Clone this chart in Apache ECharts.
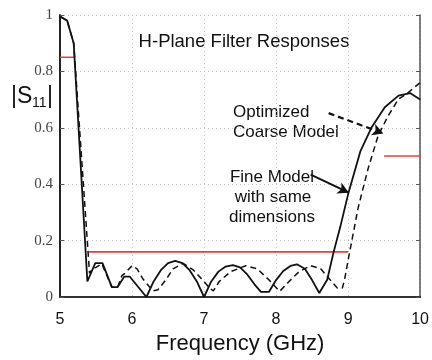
<!DOCTYPE html>
<html>
<head>
<meta charset="utf-8">
<script src="https://cdn.jsdelivr.net/npm/echarts@6/dist/echarts.min.js"></script>
<style>
  html, body { margin: 0; padding: 0; background: #fff; }
  #chart { width: 432px; height: 360px; }
</style>
</head>
<body>
<div id="chart"></div>
<script>
// fine model (solid)
const fineFreq = [5.0, 5.1, 5.19, 5.38, 5.49, 5.59, 5.72, 5.8, 5.89, 5.97, 6.2, 6.3, 6.4, 6.5, 6.6, 6.7, 6.8, 6.9, 7.0,
  7.1, 7.2, 7.3, 7.4, 7.5, 7.6, 7.7, 7.79, 7.9, 8.0, 8.1, 8.2, 8.29, 8.4, 8.5, 8.6, 8.71, 8.8, 8.89, 9.0,
  9.17, 9.33, 9.51, 9.7, 9.86, 10.0];
const fineS11 = [0.995, 0.98, 0.9, 0.055, 0.12, 0.12, 0.035, 0.035, 0.072, 0.072, 0.0, 0.055, 0.095, 0.12, 0.128, 0.12, 0.095, 0.055, 0.0,
  0.055, 0.09, 0.108, 0.113, 0.105, 0.08, 0.045, 0.018, 0.018, 0.06, 0.092, 0.11, 0.116, 0.1, 0.06, 0.014, 0.061, 0.16, 0.247, 0.364,
  0.516, 0.603, 0.673, 0.714, 0.723, 0.7];

// optimized coarse model (dashed)
const coarseFreq = [5.0, 5.1, 5.19, 5.41, 5.45, 5.5, 5.58, 5.72, 5.8, 5.86, 5.9, 6.0, 6.07, 6.16, 6.29, 6.36, 6.47, 6.57, 6.71, 6.85, 7.0,
  7.08, 7.13, 7.21, 7.37, 7.58, 7.74, 7.9, 8.05, 8.18, 8.32, 8.48, 8.62, 8.75, 8.85, 8.92, 8.95, 9.0,
  9.14, 9.28, 9.42, 9.56, 9.7, 9.81, 10.0];
const coarseS11 = [0.995, 0.98, 0.9, 0.084, 0.1, 0.105, 0.118, 0.035, 0.035, 0.076, 0.084, 0.111, 0.1, 0.061, 0.022, 0.026, 0.061, 0.1, 0.119, 0.096, 0.055,
  0.03, 0.022, 0.055, 0.09, 0.111, 0.1, 0.061, 0.02, 0.055, 0.09, 0.111, 0.1, 0.061, 0.032, 0.032, 0.06, 0.13,
  0.317, 0.457, 0.574, 0.644, 0.702, 0.72, 0.76];

// spec masks (red)
const specStart = [5.0, 5.4, 9.5];
const specEnd = [5.2, 9.0, 10.0];
const specLevel = [0.85, 0.16, 0.5];

const xMin = 5, xMax = 10, xStep = 1;
const yMin = 0, yMax = 1, yStep = 0.2;

const pairs = (xs, ys) => xs.map((x, i) => [x, ys[i]]);

const chart = echarts.init(document.getElementById('chart'));

const specSeries = specLevel.map((lv, i) => ({
  type: 'line',
  data: [[specStart[i], lv], [specEnd[i], lv]],
  symbol: 'none',
  lineStyle: {color: '#e8403c', width: 1.6},
  silent: true,
  z: 1
}));

const gridLine = {show: true, lineStyle: {color: '#c4c4c4', type: [1, 3]}};

chart.setOption({
  animation: false,
  grid: {left: 60, right: 10, top: 15, bottom: 59},
  xAxis: [{
    type: 'value', min: xMin, max: xMax, interval: xStep,
    axisLine: {lineStyle: {color: '#222', width: 2}},
    axisTick: {show: false},
    axisLabel: {fontSize: 16, color: '#111', margin: 15, fontFamily: 'Liberation Sans'},
    splitLine: gridLine,
    name: 'Frequency (GHz)',
    nameLocation: 'middle',
    nameGap: 36,
    nameTextStyle: {fontSize: 22, color: '#111', fontFamily: 'Liberation Sans'}
  }, {
    type: 'value', min: xMin, max: xMax, interval: xStep, position: 'top',
    axisLine: {show: true, lineStyle: {color: '#333', width: 2}},
    axisTick: {show: false},
    axisLabel: {show: false},
    splitLine: {show: false}
  }],
  yAxis: [{
    type: 'value', min: yMin, max: yMax, interval: yStep,
    axisLine: {show: true, lineStyle: {color: '#222', width: 2}},
    axisTick: {show: true, inside: true, length: 4, lineStyle: {color: '#555'}},
    axisLabel: {fontSize: 15, color: '#444', margin: 7, fontFamily: 'Liberation Serif'},
    splitLine: gridLine
  }, {
    type: 'value', min: yMin, max: yMax, interval: yStep, position: 'right',
    axisLine: {show: true, lineStyle: {color: '#555', width: 1.5}},
    axisTick: {show: true, inside: true, length: 4, lineStyle: {color: '#555'}},
    axisLabel: {show: false},
    splitLine: {show: false}
  }],
  series: specSeries.concat([
    {
      name: 'Optimized Coarse Model',
      type: 'line',
      data: pairs(coarseFreq, coarseS11),
      symbol: 'none',
      lineStyle: {color: '#111', width: 1.5, type: [6, 4]},
      z: 3,
      markLine: {
        silent: true,
        symbol: ['none', 'arrow'],
        symbolSize: [9, 11],
        label: {show: false},
        lineStyle: {color: '#111', width: 2.2, type: [6, 4]},
        data: [[{coord: [8.73, 0.652]}, {coord: [9.49, 0.58]}]]
      }
    },
    {
      name: 'Fine Model',
      type: 'line',
      data: pairs(fineFreq, fineS11),
      symbol: 'none',
      lineStyle: {color: '#111', width: 1.8},
      z: 4,
      markLine: {
        silent: true,
        symbol: ['none', 'arrow'],
        symbolSize: [9, 11],
        label: {show: false},
        lineStyle: {color: '#111', width: 2, type: 'solid'},
        data: [[{coord: [8.48, 0.434]}, {coord: [9.01, 0.37]}]]
      }
    }
  ]),
  graphic: [
    {type: 'text', x: 244, y: 42, style: {text: 'H-Plane Filter Responses', font: '18.5px "Liberation Sans"', fill: '#111', align: 'center', verticalAlign: 'middle'}},
    {type: 'text', x: 233, y: 112, style: {text: 'Optimized', font: '17px "Liberation Sans"', fill: '#111', align: 'left', verticalAlign: 'middle'}},
    {type: 'text', x: 233, y: 132, style: {text: 'Coarse Model', font: '17px "Liberation Sans"', fill: '#111', align: 'left', verticalAlign: 'middle'}},
    {type: 'text', x: 272, y: 177, style: {text: 'Fine Model', font: '17px "Liberation Sans"', fill: '#111', align: 'center', verticalAlign: 'middle'}},
    {type: 'text', x: 273, y: 197, style: {text: 'with same', font: '17px "Liberation Sans"', fill: '#111', align: 'center', verticalAlign: 'middle'}},
    {type: 'text', x: 272, y: 217, style: {text: 'dimensions', font: '17px "Liberation Sans"', fill: '#111', align: 'center', verticalAlign: 'middle'}},
    {type: 'text', x: 11, y: 97, style: {text: '|S', font: '23px "Liberation Sans"', fill: '#111', align: 'left', verticalAlign: 'middle'}},
    {type: 'text', x: 32, y: 103, style: {text: '11', font: '14px "Liberation Sans"', fill: '#111', align: 'left', verticalAlign: 'middle'}},
    {type: 'text', x: 47, y: 97, style: {text: '|', font: '23px "Liberation Sans"', fill: '#111', align: 'left', verticalAlign: 'middle'}}
  ]
});
</script>
</body>
</html>
